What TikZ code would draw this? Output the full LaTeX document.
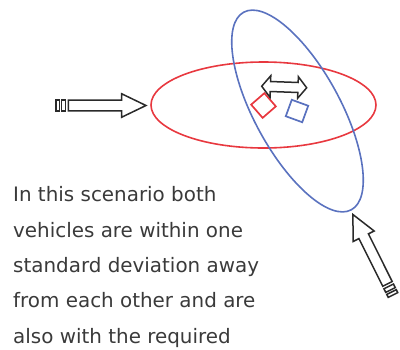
\documentclass[tikz,border=0pt]{standalone}
\usepackage{fontspec}
\setmainfont{DejaVu Sans}
\usetikzlibrary{shapes.geometric}
\definecolor{zonered}{HTML}{E8383F}
\definecolor{zoneblue}{HTML}{5A72BF}
\definecolor{inkgray}{HTML}{3A3A3A}
\definecolor{outline}{HTML}{2A2A2A}
\tikzset{
  zone/.style={ellipse, draw, line width=1.6pt, minimum width=225pt, minimum height=86pt, inner sep=0pt},
  vehicle/.style={draw, line width=1.7pt, minimum size=17.5pt, inner sep=0pt},
  arrowline/.style={draw=outline, line width=1.5pt, line join=miter, fill=white},
  caption/.style={anchor=base west, inner sep=0pt, text=inkgray, font=\fontsize{19.9}{24}\selectfont},
  stripedarrow/.pic={
    \path[arrowline] (0,5.3) rectangle (3.3,-5.3);
    \path[arrowline] (5.6,5.3) rectangle (9.6,-5.3);
    \path[arrowline] (12.4,5.3) -- (65.7,5.3) -- (65.7,11.7) -- (90,0)
      -- (65.7,-11.7) -- (65.7,-5.3) -- (12.4,-5.3) -- cycle;
  }
}
\begin{document}
\begin{tikzpicture}[x=1pt, y=-1pt]
\useasboundingbox (0,0) rectangle (400,349);

% confidence regions of the two vehicles
\node[zone, draw=zonered] (redzone) at (263.5,105) {};
\node[zone, draw=zoneblue, rotate=-61.4] (bluezone) at (297.5,111) {};

% the two vehicles
\node[vehicle, draw=zonered, rotate=41] (redcar) at (263.5,105.5) {};
\node[vehicle, draw=zoneblue, rotate=-20] (bluecar) at (297,111) {};

% separation between the vehicles
\begin{scope}[shift={(284.2,87)}, rotate=-2]
  \path[arrowline] (-22.5,0) -- (-13.8,10.8) -- (-13.8,5) -- (13.8,5) -- (13.8,10.8)
    -- (22.5,0) -- (13.8,-10.8) -- (13.8,-5) -- (-13.8,-5) -- (-13.8,-10.8) -- cycle;
\end{scope}

% directions of travel
\pic at (56,105.5) {stripedarrow};
\pic[rotate=116.5] at (393,295) {stripedarrow};

% explanation
\node[caption] (line1) at (13,201.7) {In this scenario both};
\node[caption] (line2) at (13,237) {vehicles are within one};
\node[caption] (line3) at (13,272.3) {standard deviation away};
\node[caption] (line4) at (13,307.6) {from each other and are};
\node[caption] (line5) at (13,343) {also with the required};
\end{tikzpicture}
\end{document}
